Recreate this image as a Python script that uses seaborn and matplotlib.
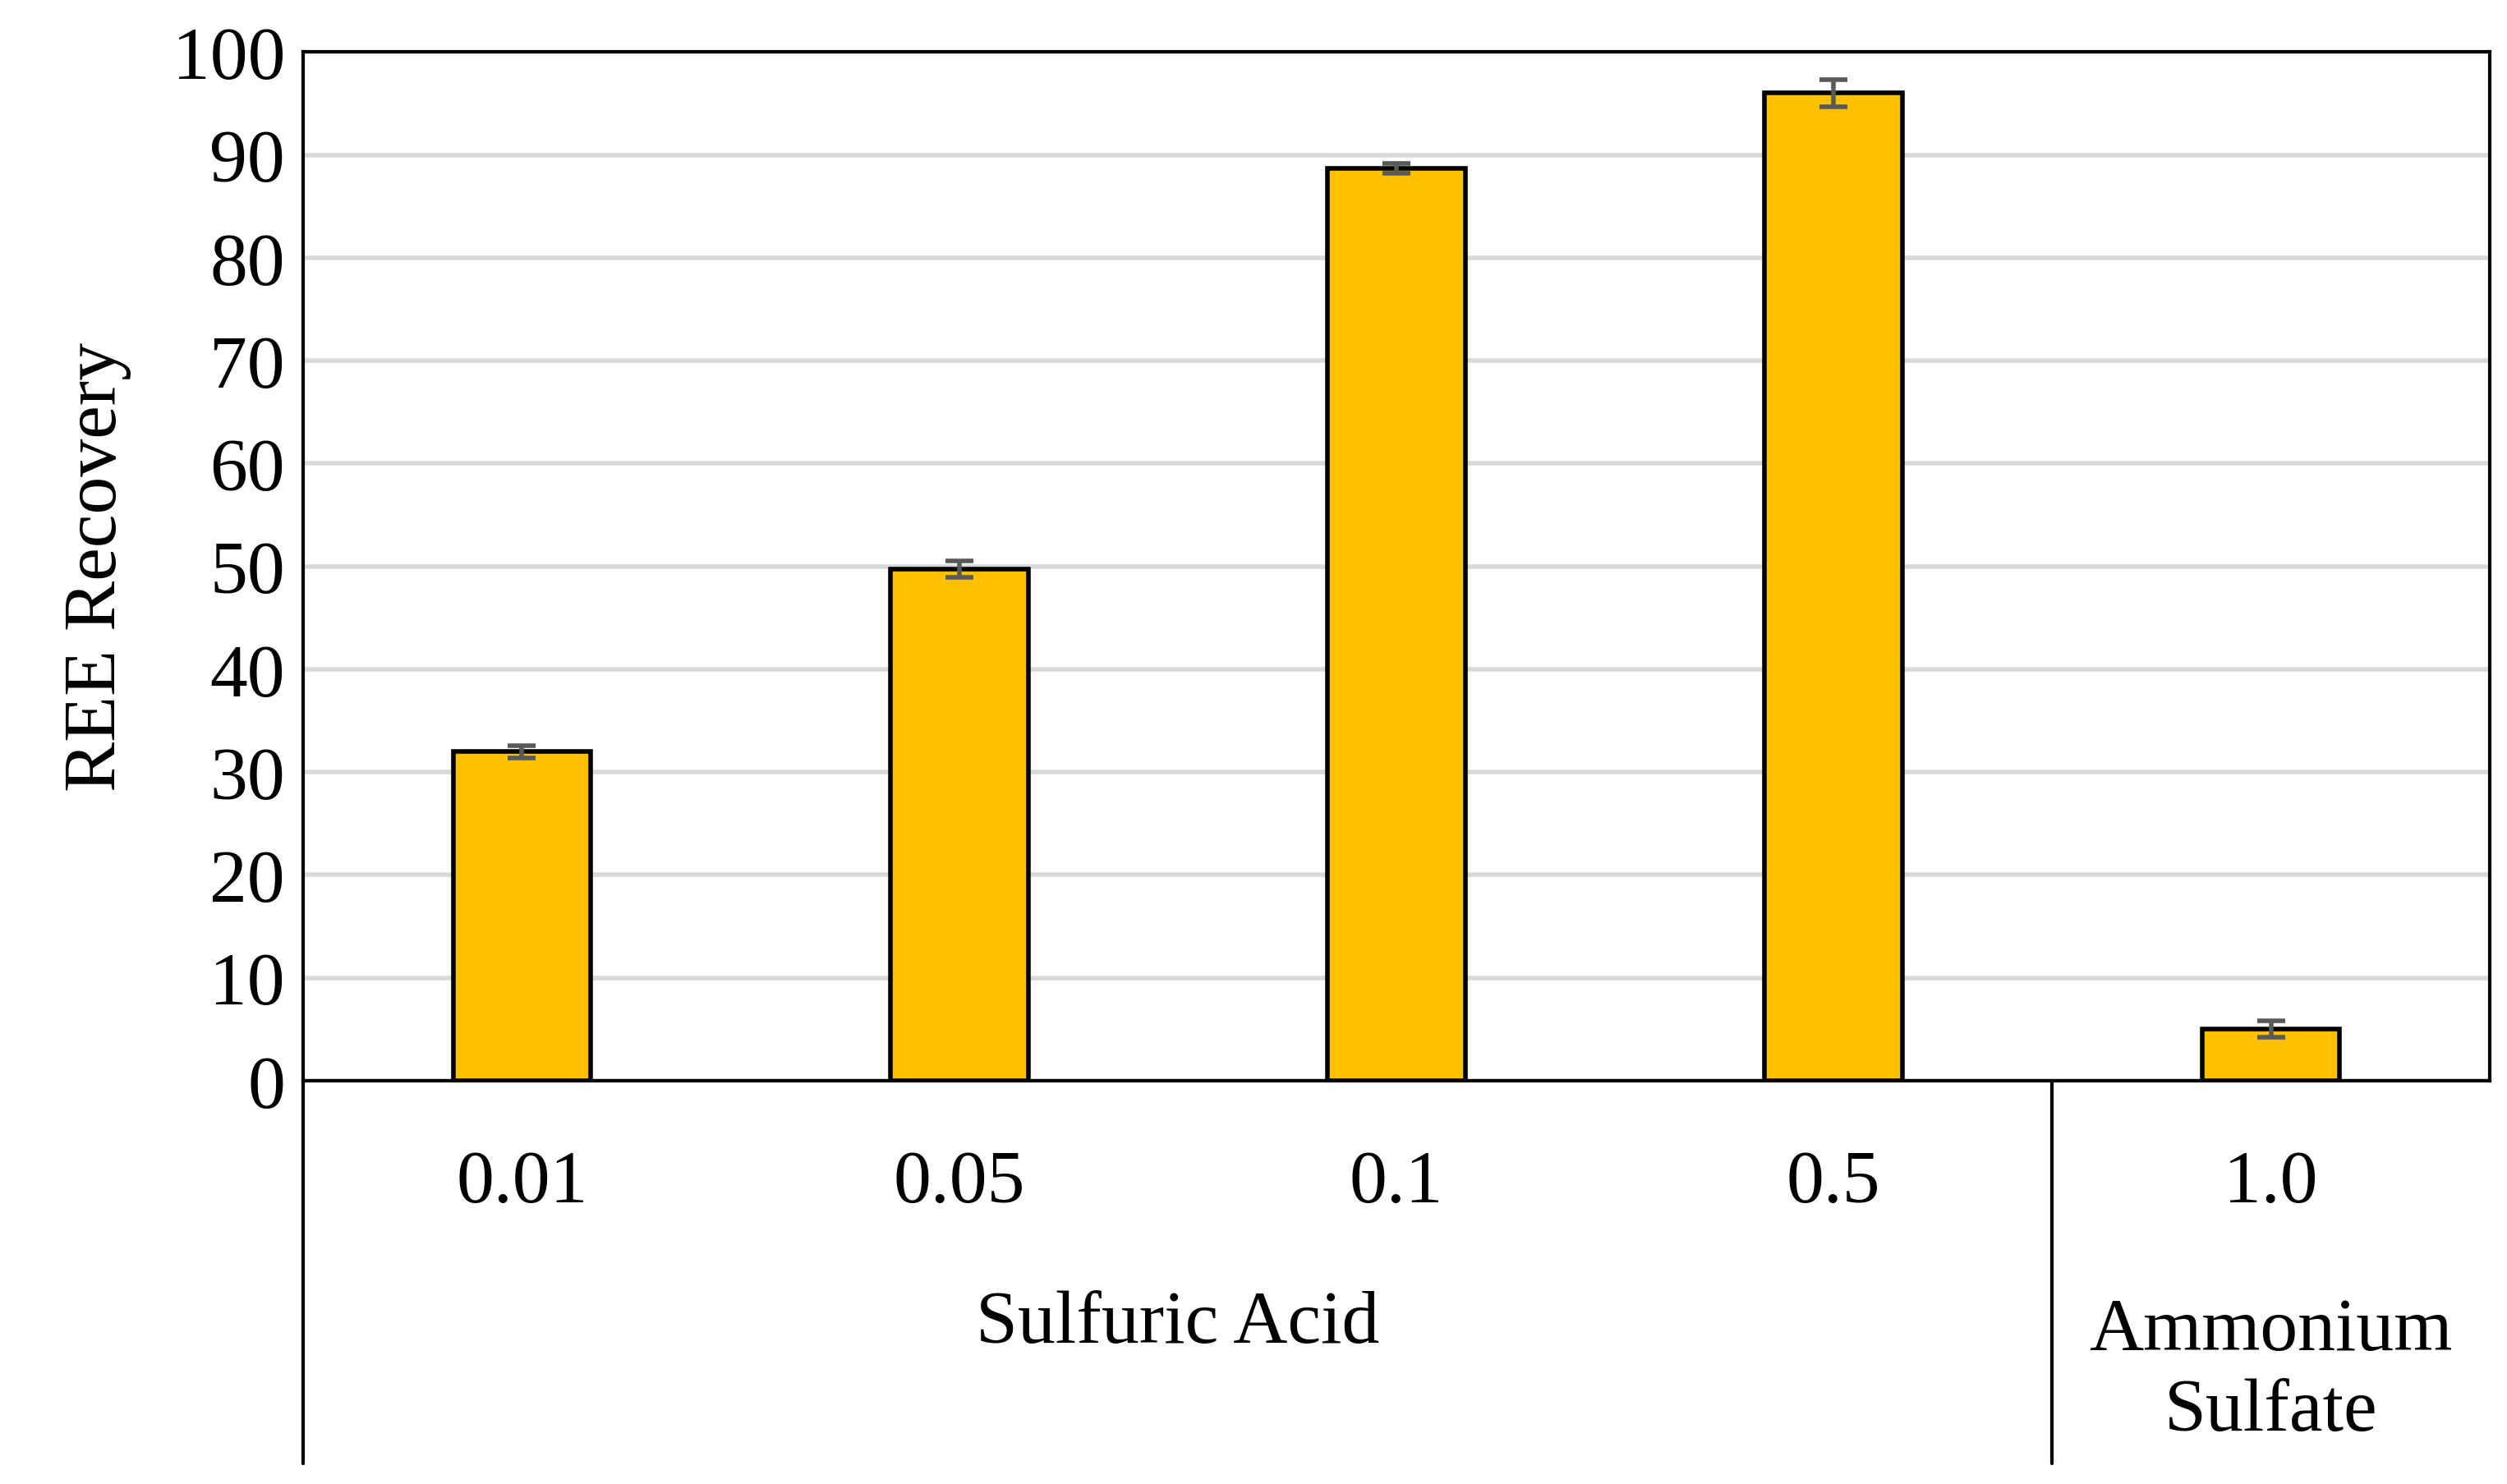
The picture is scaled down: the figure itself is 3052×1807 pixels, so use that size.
import matplotlib
matplotlib.use("Agg")
import matplotlib.pyplot as plt
import seaborn as sns
import pandas as pd
from matplotlib.lines import Line2D

categories = ["0.01", "0.05", "0.1", "0.5", "1.0"]
recovery = [32.0, 49.7, 88.7, 96.0, 5.0]
errors = [0.6, 0.8, 0.5, 1.3, 0.8]
groups = ["Sulfuric Acid", "Ammonium\nSulfate"]
group_sizes = [4, 1]

sns.set_theme(style="white")
plt.rcParams['font.family'] = ['Liberation Serif', 'DejaVu Serif']
plt.rcParams['text.color'] = 'black'
plt.rcParams['axes.labelcolor'] = 'black'
plt.rcParams['xtick.color'] = 'black'
plt.rcParams['ytick.color'] = 'black'

FS = 33
fig = plt.figure(figsize=(15.26, 9.04), dpi=200)
ax = fig.add_axes([0.121, 0.2716, 0.872, 0.6928])
df = pd.DataFrame({"cat": categories, "val": recovery})
sns.barplot(data=df, x="cat", y="val", ax=ax, color="#FFC000", edgecolor="black",
            linewidth=2, width=0.315, saturation=1, errorbar=None, zorder=3)
ax.errorbar(range(len(categories)), recovery, yerr=errors, fmt="none",
            ecolor="#595959", elinewidth=2, capsize=6, capthick=2, zorder=4)
ax.set_xlim(-0.5, len(categories) - 0.5)
ax.set_ylim(0, 100)
ax.set_yticks(range(0, 101, 10))
ax.yaxis.grid(True, color="#D9D9D9", linewidth=2, zorder=0)
ax.set_axisbelow(True)
ax.tick_params(axis="y", labelsize=FS, length=0, pad=8)
ax.tick_params(axis="x", labelsize=FS, length=0, pad=30)
ax.set_xlabel("")
ax.set_ylabel("REE Recovery", fontsize=FS, labelpad=18)
for s in ax.spines.values():
    s.set_color("black"); s.set_linewidth(1.5)

ybot = (0.014 - 0.2716) / 0.6928
for xa in [0.0, 0.8]:
    ax.add_line(Line2D([xa, xa], [0, ybot], transform=ax.transAxes, color="black",
                       linewidth=1.5, clip_on=False))
start = 0
n = len(categories)
for g, sz in zip(groups, group_sizes):
    xc = (start + sz / 2) / n
    yoff = (0.108 - 0.2716) / 0.6928 if "\n" not in g else (0.076 - 0.2716) / 0.6928
    ax.text(xc, yoff, g, transform=ax.transAxes, ha="center", va="center",
            fontsize=FS, linespacing=1.25)
    start += sz

fig.savefig("out.png", dpi=200)
